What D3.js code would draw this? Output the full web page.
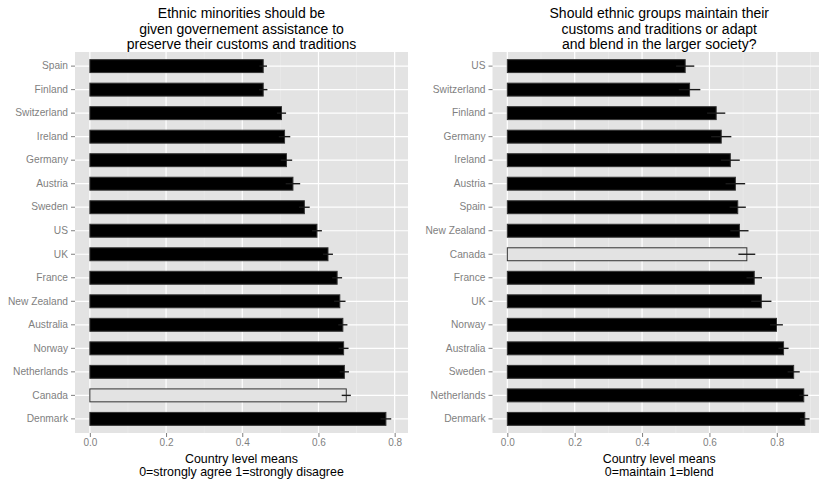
<!DOCTYPE html>
<html>
<head>
<meta charset="utf-8">
<script src="https://cdn.jsdelivr.net/npm/d3@7"></script>
<style>
html,body{margin:0;padding:0;background:#fff;}
svg{display:block;}
text{font-family:"Liberation Sans",Arial,Helvetica,sans-serif;}
</style>
</head>
<body>
<svg id="chart" width="819" height="482"></svg>
<script>
// ---- Data ----
const leftCountries = ["Spain","Finland","Switzerland","Ireland","Germany","Austria","Sweden","US","UK","France","New Zealand","Australia","Norway","Netherlands","Canada","Denmark"];
const leftValues    = [0.455,0.455,0.503,0.511,0.516,0.533,0.563,0.596,0.625,0.649,0.656,0.664,0.666,0.668,0.673,0.777];
const leftErrors    = [0.010,0.011,0.012,0.015,0.015,0.019,0.014,0.013,0.013,0.013,0.015,0.012,0.013,0.012,0.012,0.014];

const rightCountries = ["US","Switzerland","Finland","Germany","Ireland","Austria","Spain","New Zealand","Canada","France","UK","Norway","Australia","Sweden","Netherlands","Denmark"];
const rightValues    = [0.528,0.541,0.620,0.635,0.662,0.677,0.684,0.689,0.711,0.733,0.754,0.799,0.820,0.850,0.880,0.883];
const rightErrors    = [0.027,0.032,0.027,0.030,0.028,0.029,0.024,0.027,0.025,0.023,0.030,0.019,0.015,0.018,0.013,0.014];

const xTicks = [0, 0.2, 0.4, 0.6, 0.8];
const xMinor = [0.1, 0.3, 0.5, 0.7, 0.9];
const highlight = "Canada";

const leftTitle  = ["Ethnic minorities should be","given governement assistance to","preserve their customs and traditions"];
const rightTitle = ["Should ethnic groups maintain their","customs and traditions or adapt","and blend in the larger society?"];
const leftXTitle  = ["Country level means","0=strongly agree 1=strongly disagree"];
const rightXTitle = ["Country level means","0=maintain 1=blend"];

const svg = d3.select("#chart");

function panel(cfg){
  const g = svg.append("g");
  const x = d3.scaleLinear().domain(cfg.xDomain).range([cfg.left, cfg.right]);
  const y = d3.scaleBand().domain(cfg.cats).range([cfg.top, cfg.bottom]).paddingInner(0.45).paddingOuter(0.325);
  const rows = cfg.cats.map((c,i)=>({c, v:cfg.vals[i], e:cfg.errs[i]}));

  g.append("rect").attr("x",cfg.left).attr("y",cfg.top)
    .attr("width",cfg.right-cfg.left).attr("height",cfg.bottom-cfg.top)
    .attr("fill","#e3e3e3");

  g.selectAll(".minor").data(xMinor.filter(d=>x(d)<cfg.right)).join("line")
    .attr("x1",d=>x(d)).attr("x2",d=>x(d)).attr("y1",cfg.top).attr("y2",cfg.bottom)
    .attr("stroke","#efefef").attr("stroke-width",0.6);
  g.selectAll(".majx").data(xTicks).join("line")
    .attr("x1",d=>x(d)).attr("x2",d=>x(d)).attr("y1",cfg.top).attr("y2",cfg.bottom)
    .attr("stroke","#ffffff").attr("stroke-width",1.2);
  g.selectAll(".majy").data(cfg.cats).join("line")
    .attr("x1",cfg.left).attr("x2",cfg.right)
    .attr("y1",d=>y(d)+y.bandwidth()/2).attr("y2",d=>y(d)+y.bandwidth()/2)
    .attr("stroke","#ffffff").attr("stroke-width",1.2);

  g.selectAll(".bar").data(rows).join("rect")
    .attr("x",x(0)).attr("y",d=>y(d.c))
    .attr("width",d=>x(d.v)-x(0)).attr("height",y.bandwidth())
    .attr("fill",d=>d.c===highlight?"#e3e3e3":"#000000")
    .attr("stroke","#333333").attr("stroke-width",1);

  g.selectAll(".err").data(rows).join("line")
    .attr("x1",d=>x(d.v-d.e)).attr("x2",d=>x(d.v+d.e))
    .attr("y1",d=>y(d.c)+y.bandwidth()/2).attr("y2",d=>y(d.c)+y.bandwidth()/2)
    .attr("stroke","#1a1a1a").attr("stroke-width",1.4);

  const ya = d3.axisLeft(y).tickSize(4).tickPadding(3);
  const yg = g.append("g").attr("transform",`translate(${cfg.left},0)`).call(ya);
  yg.select(".domain").remove();
  yg.selectAll("line").attr("stroke","#7f7f7f");
  yg.selectAll("text").attr("fill","#7f7f7f").style("font-size","10.2px");

  const xa = d3.axisBottom(x).tickValues(xTicks).tickFormat(d3.format(".1f")).tickSize(4).tickPadding(2);
  const xg = g.append("g").attr("transform",`translate(0,${cfg.bottom})`).call(xa);
  xg.select(".domain").remove();
  xg.selectAll("line").attr("stroke","#7f7f7f");
  xg.selectAll("text").attr("fill","#7f7f7f").style("font-size","10px");

  const cx = (cfg.left+cfg.right)/2;
  g.append("text").attr("text-anchor","middle").attr("font-size","14px").attr("fill","#000")
    .selectAll("tspan").data(cfg.title).join("tspan")
    .attr("x",cx).attr("y",(d,i)=>18+i*15.5).text(d=>d);
  g.append("text").attr("text-anchor","middle").attr("font-size","12.4px").attr("fill","#000")
    .selectAll("tspan").data(cfg.xTitle).join("tspan")
    .attr("x",(cfg.left+Math.min(cfg.right,819))/2 + cfg.xTitleShift).attr("y",(d,i)=>463+i*12.5).text(d=>d);
}

panel({cats:leftCountries, vals:leftValues, errs:leftErrors,
  xDomain:[-0.039,0.835], left:75, right:408, top:52, bottom:433,
  title:leftTitle, xTitle:leftXTitle, xTitleShift:0});
panel({cats:rightCountries, vals:rightValues, errs:rightErrors,
  xDomain:[-0.044,0.946], left:492.5, right:826, top:52, bottom:433,
  title:rightTitle, xTitle:rightXTitle, xTitleShift:3.5});
</script>
</body>
</html>
